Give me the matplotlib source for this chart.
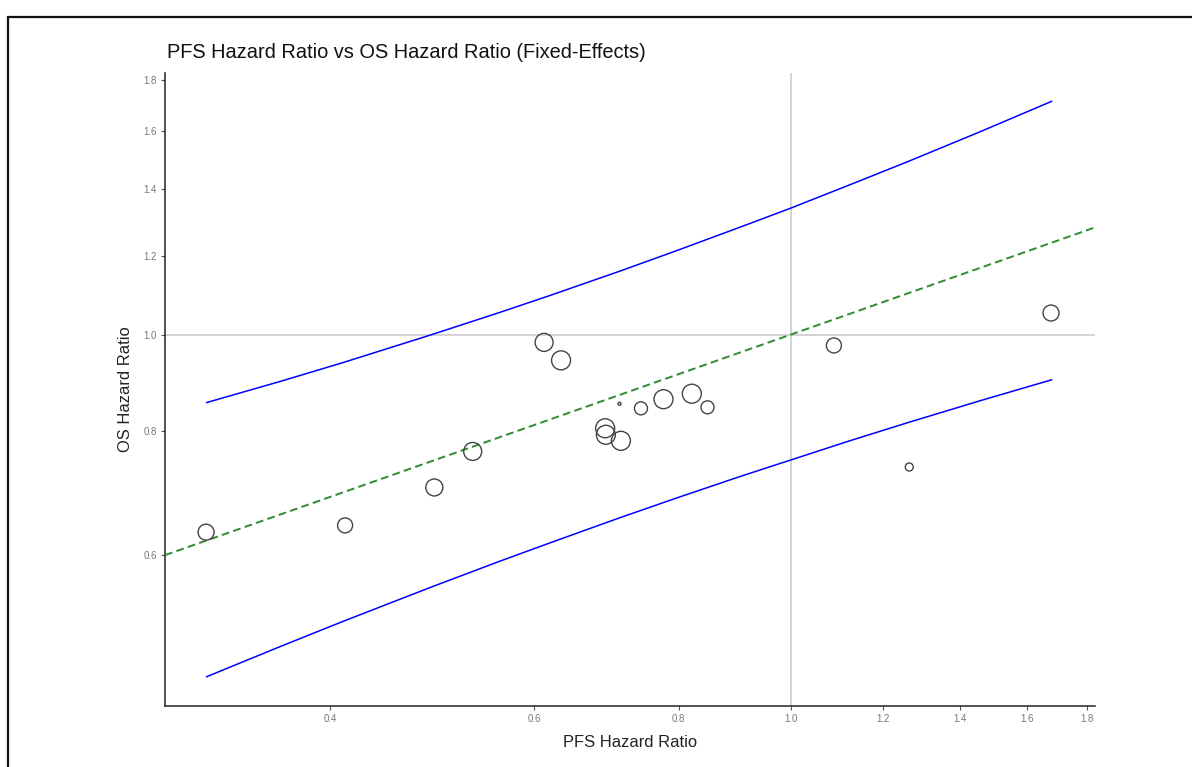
import numpy as np
import matplotlib
matplotlib.use("Agg")
import matplotlib.pyplot as plt
from matplotlib.patches import Rectangle

plt.rcParams['font.family'] = ['Liberation Sans', 'DejaVu Sans']

# study-level hazard ratios
pfs_hr = [0.3125, 0.412, 0.492, 0.531, 0.612, 0.633, 0.691, 0.692, 0.713,
          0.711, 0.742, 0.776, 0.821, 0.847, 1.089, 1.265, 1.677]
os_hr = [0.633, 0.643, 0.702, 0.763, 0.982, 0.942, 0.805, 0.793, 0.782,
         0.852, 0.843, 0.861, 0.872, 0.845, 0.975, 0.736, 1.051]
# relative study weight (drives circle size)
study_weight = [8, 7.5, 8.5, 9, 9, 9.5, 9.5, 9.5, 9.5,
                1.5, 6.5, 9.5, 9.5, 6.5, 7.5, 4, 8]

# 95% prediction band along the PFS axis
band_x = [0.3129, 0.3621, 0.4104, 0.4898, 0.5607, 0.6206, 0.7118,
          0.7951, 0.9036, 1.0, 1.1245, 1.2601, 1.4561, 1.6788]
band_upper = [0.8544, 0.8971, 0.9372, 1.000, 1.0527, 1.0955, 1.1581,
              1.2132, 1.2819, 1.3399, 1.4142, 1.4911, 1.5984, 1.7150]
band_lower = [0.4531, 0.4858, 0.5150, 0.5579, 0.5920, 0.6181, 0.6546,
              0.6846, 0.7200, 0.7482, 0.7822, 0.8153, 0.8579, 0.9005]

# fitted surrogate line on the log scale: log(OS) = a + b*log(PFS)
fit_intercept = 0.0
fit_slope = 0.41

x_ticks = [0.4, 0.6, 0.8, 1.0, 1.2, 1.4, 1.6, 1.8]
y_ticks = [0.6, 0.8, 1.0, 1.2, 1.4, 1.6, 1.8]

W, H = 1192, 767
fig = plt.figure(figsize=(W / 100, H / 100), dpi=100)
ax = fig.add_axes([165 / W, 1 - 706 / H, (1095 - 165) / W, (706 - 73) / H])
ax.set_xscale('log')
ax.set_yscale('log')
ax.set_xlim(0.2880, 1.8302)
ax.set_ylim(0.4234, 1.8313)

# reference lines at HR = 1
ax.axhline(1.0, color='#d3d3d3', lw=1.4, zorder=1)
ax.axvline(1.0, color='#d3d3d3', lw=1.4, zorder=1)

ax.plot(band_x, band_upper, color='#0000ff', lw=1.1, zorder=2)
ax.plot(band_x, band_lower, color='#0000ff', lw=1.1, zorder=2)

p1 = (1.0, np.exp(fit_intercept))
p2 = (2.0, np.exp(fit_intercept + fit_slope * np.log(2.0)))
ax.axline(p1, p2, color='#2e8b2e', lw=1.4, dashes=(4, 2.2), zorder=3)

sizes = [(1.44 * w) ** 2 for w in study_weight]
ax.scatter(pfs_hr, os_hr, s=sizes, facecolors='none', edgecolors='#444444',
           linewidths=1.0, zorder=4)

ax.xaxis.set_major_locator(matplotlib.ticker.FixedLocator(x_ticks))
ax.yaxis.set_major_locator(matplotlib.ticker.FixedLocator(y_ticks))
ax.xaxis.set_minor_locator(matplotlib.ticker.NullLocator())
ax.yaxis.set_minor_locator(matplotlib.ticker.NullLocator())
ax.set_xticklabels([f'{t:.1f}' for t in x_ticks])
ax.set_yticklabels([f'{t:.1f}' for t in y_ticks])
ax.tick_params(axis='both', length=3, width=0.8, color='#555555',
               labelsize=7, labelcolor='#777777', pad=3)

for side in ['top', 'right']:
    ax.spines[side].set_visible(False)
for side in ['left', 'bottom']:
    ax.spines[side].set_color('#222222')
    ax.spines[side].set_linewidth(1.1)

ax.set_xlabel('PFS Hazard Ratio', fontsize=11.9, color='#222222', labelpad=8)
ax.set_ylabel('OS Hazard Ratio', fontsize=11.9, color='#222222', labelpad=7)
fig.text(167 / W, 1 - 52 / H, 'PFS Hazard Ratio vs OS Hazard Ratio (Fixed-Effects)',
         fontsize=14.4, color='#111111', ha='left', va='center')

# outer frame
fig.add_artist(Rectangle((8 / W, -0.1), 1.2, 1.1 - 17 / H, transform=fig.transFigure,
                         fill=False, edgecolor='#111111', lw=1.6))

fig.savefig('out.png', dpi=100)
